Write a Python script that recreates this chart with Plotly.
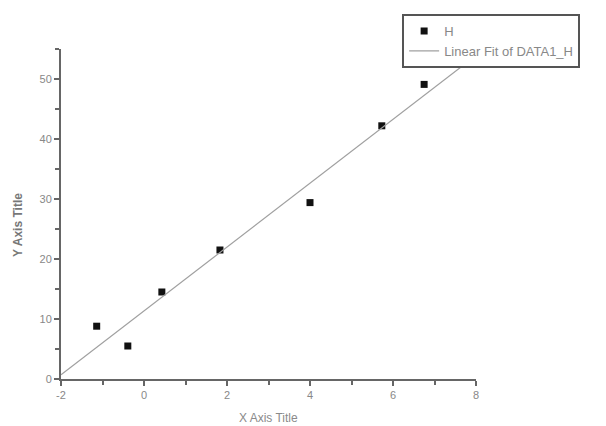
import numpy as np
import plotly.graph_objects as go

x_vals = [-1.14, -0.39, 0.43, 1.83, 4.0, 5.73, 6.75]
y_vals = [8.8, 5.5, 14.5, 21.5, 29.4, 42.2, 49.1]
x_ticks = [-2, 0, 2, 4, 6, 8]
y_ticks = [0, 10, 20, 30, 40, 50]

slope, intercept = np.polyfit(x_vals, y_vals, 1)
fit_x = [-2, 8]
fit_y = [slope * v + intercept for v in fit_x]

FONT = "Liberation Sans Narrow, Liberation Sans, Arial"

fig = go.Figure()
fig.add_trace(go.Scatter(x=x_vals, y=y_vals, mode="markers", name="H",
                         marker=dict(symbol="square", size=7, color="#111111")))
fig.add_trace(go.Scatter(x=fit_x, y=fit_y, mode="lines", name="Linear Fit of DATA1_H",
                         line=dict(color="#a0a0a0", width=1.2)))

axis_common = dict(showgrid=False, zeroline=False, showline=True, linecolor="#666666",
                   linewidth=2, ticks="outside", ticklen=5, tickwidth=1.5, tickcolor="#666666",
                   tickfont=dict(family=FONT, size=11, color="#888888"),
                   mirror=False)

fig.update_layout(
    width=598, height=418,
    margin=dict(l=53, r=130, t=41, b=47, autoexpand=False),
    plot_bgcolor="white", paper_bgcolor="white",
    xaxis=dict(range=[-2, 8], tickvals=x_ticks, ticktext=[str(t) for t in x_ticks],
               minor=dict(ticks="outside", ticklen=4, tickcolor="#666666", dtick=1, tick0=-2),
               **axis_common),
    yaxis=dict(range=[0, 55], tickvals=y_ticks, ticktext=[str(t) for t in y_ticks],
               minor=dict(ticks="outside", ticklen=4, tickcolor="#666666", dtick=5, tick0=0),
               **axis_common),
    legend=dict(x=0.822, y=1.106, xanchor="left", yanchor="top",
                bordercolor="#555555", borderwidth=2, bgcolor="white",
                font=dict(family="Liberation Sans", size=13, color="#888888"),
                tracegroupgap=0, itemwidth=30),
    showlegend=True,
    annotations=[
        dict(text="X Axis Title", xref="paper", yref="paper", x=0.501, y=-0.118,
             xanchor="center", yanchor="middle", showarrow=False,
             font=dict(family=FONT, size=12, color="#8a8a8a")),
        dict(text="<b>Y Axis Title</b>", xref="paper", yref="paper", x=-0.1036, y=0.467,
             xanchor="center", yanchor="middle", showarrow=False, textangle=-90,
             font=dict(family=FONT, size=12, color="#777777")),
    ],
)

fig.write_html("out.html")
